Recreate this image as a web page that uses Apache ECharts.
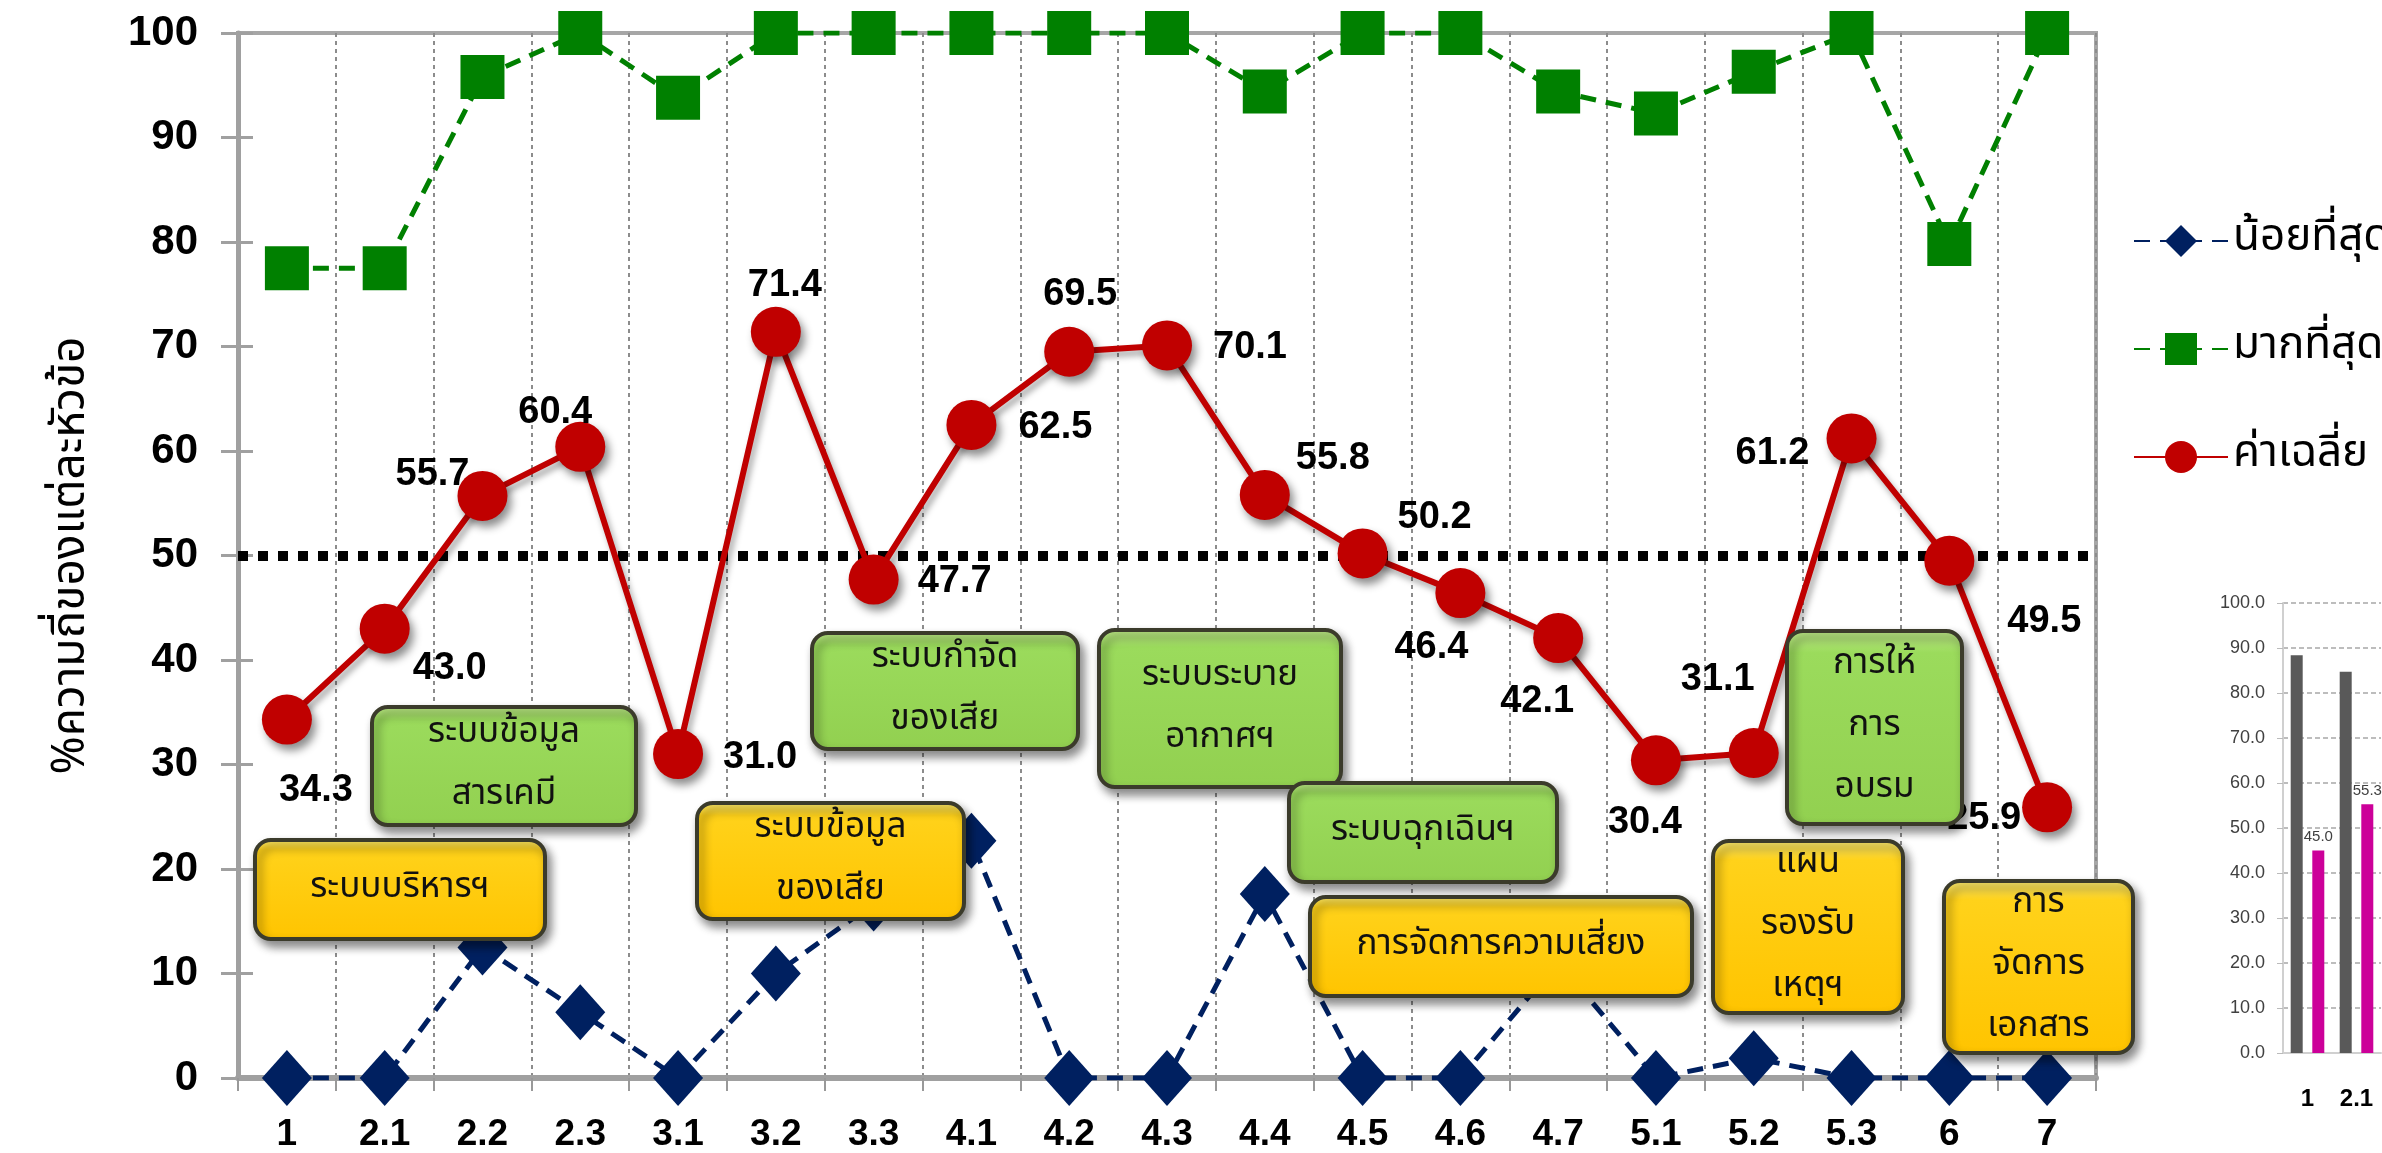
<!DOCTYPE html>
<html>
<head>
<meta charset="utf-8">
<script src="https://cdn.jsdelivr.net/npm/echarts@6/dist/echarts.min.js"></script>
<style>
  html, body { margin: 0; padding: 0; background: #fff; }
  #chart { width: 2382px; height: 1153px; }
</style>
</head>
<body>
<div id="chart"></div>
<script>
// หัวข้อ
const categories = ['1', '2.1', '2.2', '2.3', '3.1', '3.2', '3.3', '4.1', '4.2', '4.3', '4.4', '4.5', '4.6', '4.7', '5.1', '5.2', '5.3', '6', '7'];
const minValues = [0, 0, 12.5, 6.3, 0, 10.0, 16.7, 22.7, 0, 0, 17.6, 0, 0, 11.1, 0, 1.9, 0, 0, 0];
const maxValues = [77.5, 77.5, 95.8, 100, 93.8, 100, 100, 100, 100, 100, 94.4, 100, 100, 94.4, 92.3, 96.3, 100, 79.8, 100];
const avgValues = [34.3, 43.0, 55.7, 60.4, 31.0, 71.4, 47.7, 62.5, 69.5, 70.1, 55.8, 50.2, 46.4, 42.1, 30.4, 31.1, 61.2, 49.5, 25.9];
const refLine = 50;

// กราฟแท่งเล็กมุมขวาล่าง (ตัดขอบ)
const insetCategories = ['1', '2.1'];
const insetGray = [88.4, 84.7];
const insetMagenta = [45.0, 55.3];

// ตำแหน่งป้ายค่าเฉลี่ย (px จากจุด)
const avgLabelOffsets = [[29, 71], [65, 40], [-50, -21], [-25, -34], [82, 3], [9, -46], [81, 2], [84, 3], [11, -57], [83, 2],
  [68, -36], [72, -36], [-29, 54], [-21, 63], [-11, 62], [-36, -73], [-79, 15], [95, 61], [-63, 11]];

const THAI = "'Noto Sans Thai', 'Loma', 'Garuda', 'Tahoma', 'DejaVu Sans', sans-serif";
const NUM = "'Liberation Sans', Arial, sans-serif";

// กล่องข้อความ
const boxes = [
  { text: 'ระบบบริหารฯ', x: 255, y: 840, w: 290, h: 99, kind: 'y' },
  { text: 'ระบบข้อมูล\nของเสีย', x: 697, y: 803, w: 267, h: 116, kind: 'y' },
  { text: 'การจัดการความเสี่ยง', x: 1310, y: 897, w: 382, h: 99, kind: 'y' },
  { text: 'แผน\nรองรับ\nเหตุฯ', x: 1713, y: 841, w: 190, h: 172, kind: 'y' },
  { text: 'การ\nจัดการ\nเอกสาร', x: 1944, y: 881, w: 189, h: 172, kind: 'y' },
  { text: 'ระบบข้อมูล\nสารเคมี', x: 372, y: 707, w: 264, h: 118, kind: 'g' },
  { text: 'ระบบกำจัด\nของเสีย', x: 812, y: 633, w: 266, h: 116, kind: 'g' },
  { text: 'ระบบระบาย\nอากาศฯ', x: 1099, y: 630, w: 242, h: 157, kind: 'g' },
  { text: 'ระบบฉุกเฉินฯ', x: 1289, y: 783, w: 268, h: 99, kind: 'g' },
  { text: 'การให้\nการ\nอบรม', x: 1787, y: 631, w: 175, h: 193, kind: 'g' }
];

const chart = echarts.init(document.getElementById('chart'));

function boxGraphic(b) {
  const fill = b.kind === 'y'
    ? new echarts.graphic.LinearGradient(0, 0, 0, 1, [
        { offset: 0, color: '#FFF07A' }, { offset: 0.12, color: '#FFD21A' }, { offset: 1, color: '#FFC400' }])
    : new echarts.graphic.LinearGradient(0, 0, 0, 1, [
        { offset: 0, color: '#C4EE8E' }, { offset: 0.12, color: '#9BDB5C' }, { offset: 1, color: '#92D050' }]);
  return {
    type: 'group', x: b.x, y: b.y, z: 100,
    children: [
      {
        type: 'rect', z: 100, shape: { x: 0, y: 0, width: b.w, height: b.h, r: 16 },
        style: { fill: fill, stroke: '#3b3b2b', lineWidth: 4, shadowBlur: 10, shadowColor: 'rgba(0,0,0,0.45)', shadowOffsetX: 4, shadowOffsetY: 6 }
      },
      {
        type: 'text', z: 101, x: b.w / 2, y: b.h / 2,
        style: { text: b.text, align: 'center', verticalAlign: 'middle', fontSize: 35, lineHeight: 62, fontFamily: THAI, fill: '#111' }
      }
    ]
  };
}

const option = {
  animation: false,
  backgroundColor: '#fff',
  grid: [
    { left: 238, top: 33, right: 286, bottom: 68, show: true, borderColor: '#a6a6a6', borderWidth: 4 },
    { left: 2283, top: 603, right: 1, bottom: 100 }
  ],
  legend: {
    data: ['น้อยที่สุด', 'มากที่สุด', 'ค่าเฉลี่ย'],
    orient: 'vertical', left: 2128, top: 214,
    itemWidth: 94, itemHeight: 40, itemGap: 64,
    textStyle: { fontSize: 44, fontFamily: THAI, color: '#000' }
  },
  xAxis: [
    {
      type: 'category', gridIndex: 0, data: categories, boundaryGap: true,
      axisLine: { lineStyle: { color: '#a0a0a0', width: 6 } },
      axisTick: { show: true, length: 13, lineStyle: { color: '#999', width: 2 } },
      splitLine: { show: true, lineStyle: { color: '#8c8c8c', width: 2, type: [4, 4] } },
      axisLabel: { fontSize: 37, fontWeight: 'bold', fontFamily: NUM, color: '#000', margin: 38 }
    },
    {
      type: 'category', gridIndex: 1, data: insetCategories,
      axisLine: { lineStyle: { color: '#d0d0d0', width: 2 } },
      axisTick: { length: 10, lineStyle: { color: '#d0d0d0', width: 2 } },
      axisLabel: { fontSize: 24, fontWeight: 'bold', fontFamily: NUM, color: '#000', margin: 34 }
    }
  ],
  yAxis: [
    {
      type: 'value', gridIndex: 0, min: 0, max: 100, interval: 10,
      name: '%ความถี่ของแต่ละหัวข้อ', nameLocation: 'middle', nameRotate: 90, nameGap: 140,
      nameTextStyle: { fontSize: 46, fontFamily: THAI, color: '#000' },
      axisLine: { show: true, lineStyle: { color: '#a0a0a0', width: 5 } },
      axisTick: { show: true, length: 17, lineStyle: { color: '#a0a0a0', width: 3 } },
      splitLine: { show: false },
      axisLabel: { fontSize: 42, fontWeight: 'bold', fontFamily: NUM, color: '#000', margin: 40 }
    },
    {
      type: 'value', gridIndex: 0, min: 0, max: 100, interval: 10, position: 'left',
      axisLine: { show: false },
      axisTick: { show: true, inside: true, length: 15, lineStyle: { color: '#a0a0a0', width: 3 } },
      axisLabel: { show: false }, splitLine: { show: false }
    },
    {
      type: 'value', gridIndex: 1, min: 0, max: 100, interval: 10,
      axisLine: { show: true, lineStyle: { color: '#d0d0d0', width: 2 } },
      axisTick: { show: true, length: 6, lineStyle: { color: '#bbb' } },
      splitLine: { show: true, lineStyle: { color: '#bdbdbd', width: 2, type: [5, 3] } },
      axisLabel: { fontSize: 18, fontFamily: NUM, color: '#404040', margin: 18, formatter: v => v.toFixed(1) }
    }
  ],
  series: [
    {
      name: 'น้อยที่สุด', type: 'line', data: minValues, z: 3,
      symbol: 'diamond', symbolSize: [50, 56],
      itemStyle: { color: '#002060' },
      lineStyle: { color: '#002060', width: 5, type: [16, 10] }
    },
    {
      name: 'มากที่สุด', type: 'line', data: maxValues, z: 4,
      symbol: 'rect', symbolSize: 44,
      itemStyle: { color: '#008000' },
      lineStyle: { color: '#008000', width: 5, type: [16, 10] }
    },
    {
      name: 'ค่าเฉลี่ย', type: 'line', z: 5,
      data: avgValues.map((v, i) => ({ value: v, label: { offset: avgLabelOffsets[i] } })),
      symbol: 'circle', symbolSize: 50,
      itemStyle: { color: '#C00000', shadowBlur: 8, shadowColor: 'rgba(0,0,0,0.45)', shadowOffsetX: 4, shadowOffsetY: 6 },
      lineStyle: { color: '#C00000', width: 6, shadowBlur: 6, shadowColor: 'rgba(0,0,0,0.35)', shadowOffsetX: 3, shadowOffsetY: 5 },
      label: {
        show: true, position: 'inside', formatter: p => p.value.toFixed(1),
        fontSize: 38, fontWeight: 'bold', fontFamily: NUM, color: '#000'
      },
      markLine: {
        silent: true, symbol: 'none', label: { show: false },
        lineStyle: { color: '#000', width: 10, type: [10, 10] },
        data: [{ yAxis: refLine }]
      }
    },
    {
      name: 'inset-gray', type: 'bar', xAxisIndex: 1, yAxisIndex: 2, data: insetGray,
      barWidth: 12, barGap: '80%', itemStyle: { color: '#595959' }
    },
    {
      name: 'inset-magenta', type: 'bar', xAxisIndex: 1, yAxisIndex: 2, data: insetMagenta,
      barWidth: 12, barGap: '80%', itemStyle: { color: '#CC0099' },
      label: { show: true, position: 'top', distance: 6, fontSize: 15, fontFamily: NUM, color: '#404040', formatter: p => p.value.toFixed(1) }
    }
  ],
  graphic: boxes.map(boxGraphic)
};

chart.setOption(option);
</script>
</body>
</html>
